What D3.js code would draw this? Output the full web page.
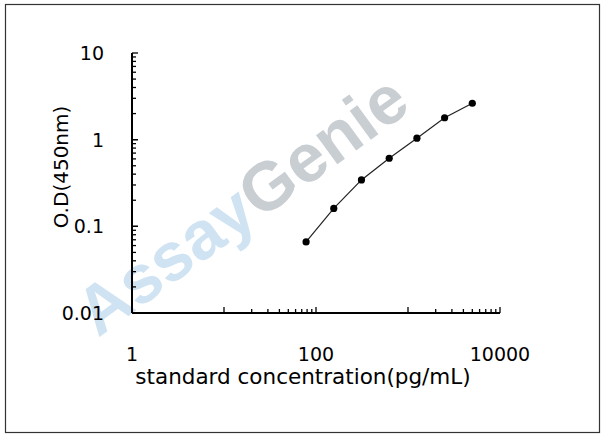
<!DOCTYPE html>
<html><head><meta charset="utf-8">
<script src="https://cdn.jsdelivr.net/npm/d3@7"></script>
<style>body{margin:0;background:#fff}svg{display:block}</style>
</head><body>
<svg id="c" width="608" height="441"></svg>
<script>
// standard curve values
var conc = [78, 156, 312, 625, 1250, 2500, 5000];
var od = [0.066, 0.161, 0.343, 0.61, 1.04, 1.79, 2.63];
var xTickLabels = [1, 100, 10000];
var yTickLabels = [10, 1, 0.1, 0.01];

var svg = d3.select("#c");
var font = "DejaVu Sans, Verdana, sans-serif";

// outer frame
svg.append("rect").attr("x", 5.5).attr("y", 4.5).attr("width", 594).attr("height", 428)
    .attr("fill", "none").attr("stroke", "#333").attr("stroke-width", 1.2);

var x = d3.scaleLog().domain([1, 10000]).range([132, 500]);
var y = d3.scaleLog().domain([0.01, 10]).range([313, 53]);

// watermark
var wm = svg.append("text").attr("transform", "translate(98,338) rotate(-36)")
    .style("font-family", "Liberation Sans, Arial, sans-serif").style("font-weight", "bold").style("font-size", "68px");
wm.append("tspan").text("Assay").attr("fill", "#cfe3f3");
wm.append("tspan").text("Genie").attr("fill", "#c9ced3");

var ax = svg.append("g").attr("stroke", "#000").attr("stroke-width", 2);
ax.append("line").attr("x1", x(1)).attr("x2", x(10000)).attr("y1", y(0.01)).attr("y2", y(0.01));
ax.append("line").attr("x1", x(1)).attr("x2", x(1)).attr("y1", y(0.01)).attr("y2", y(10));

// x ticks: majors at 10,1000 and minors in 10-100, 1000-10000
var xt = [];
[10, 1000].forEach(function (d) {
    for (var k = 1; k <= 10; k++) xt.push({v: d * k, major: k == 1 || k == 10});
});
ax.selectAll(".xt").data(xt).enter().append("line")
    .attr("stroke-width", 1.3)
    .attr("x1", function (d) { return x(d.v); }).attr("x2", function (d) { return x(d.v); })
    .attr("y1", y(0.01)).attr("y2", function (d) { return y(0.01) - (d.major ? 6 : 4); });

// y ticks
var yt = [];
[0.01, 0.1, 1].forEach(function (d) {
    for (var k = 1; k <= 10; k++) yt.push({v: d * k, major: k == 1 || k == 10});
});
ax.selectAll(".yt").data(yt).enter().append("line")
    .attr("stroke-width", 1.3)
    .attr("y1", function (d) { return y(d.v); }).attr("y2", function (d) { return y(d.v); })
    .attr("x1", x(1)).attr("x2", function (d) { return x(1) + (d.major ? 6 : 4); });

svg.selectAll(".xl").data(xTickLabels).enter().append("text")
    .attr("x", function (d) { return x(d); }).attr("y", 361)
    .attr("text-anchor", "middle").style("font-family", font).style("font-size", "19px")
    .text(function (d) { return d; });
svg.selectAll(".yl").data(yTickLabels).enter().append("text")
    .attr("x", 104).attr("y", function (d) { return y(d) + 7; })
    .attr("text-anchor", "end").style("font-family", font).style("font-size", "19px")
    .text(function (d) { return d; });

svg.append("text").attr("x", 303).attr("y", 384).attr("text-anchor", "middle")
    .style("font-family", font).style("font-size", "21.5px")
    .text("standard concentration(pg/mL)");
svg.append("text").attr("transform", "translate(68,167) rotate(-90)").attr("text-anchor", "middle")
    .style("font-family", font).style("font-size", "20px").text("O.D(450nm)");

// curve
var pts = conc.map(function (c, i) { return [x(c), y(od[i])]; });
svg.append("path").attr("d", d3.line()(pts)).attr("fill", "none")
    .attr("stroke", "#222").attr("stroke-width", 1.2);
svg.selectAll(".pt").data(pts).enter().append("circle")
    .attr("cx", function (d) { return d[0]; }).attr("cy", function (d) { return d[1]; })
    .attr("r", 3.6).attr("fill", "#000");
</script>
</body></html>
